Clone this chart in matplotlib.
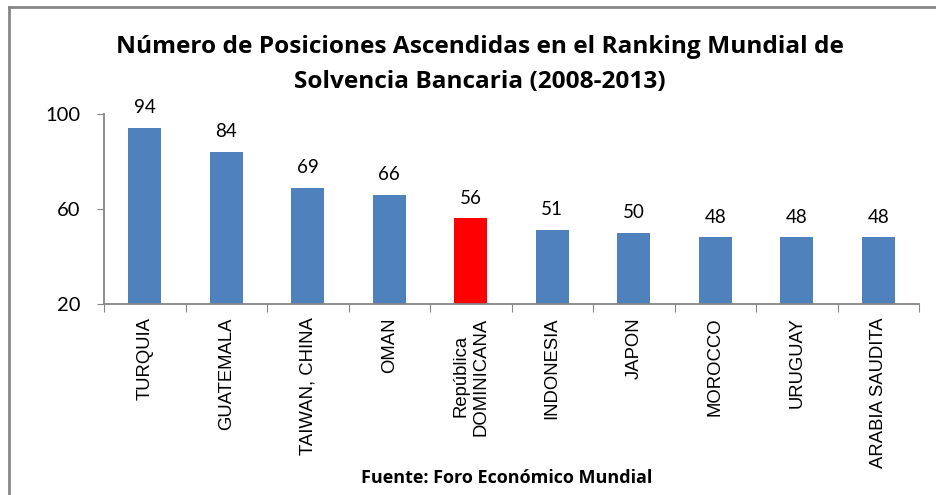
import matplotlib.pyplot as plt
from matplotlib.lines import Line2D

paises = ['TURQUIA', 'GUATEMALA', 'TAIWAN, CHINA', 'OMAN', 'República\nDOMINICANA',
          'INDONESIA', 'JAPON', 'MOROCCO', 'URUGUAY', 'ARABIA SAUDITA']
posiciones = [94, 84, 69, 66, 56, 51, 50, 48, 48, 48]
destacado = 'República\nDOMINICANA'

AZUL = '#4F81BD'
ROJO = '#FF0000'
GRIS = '#868686'
TXT = ['Lato', 'DejaVu Sans']
TIT = ['Open Sans', 'DejaVu Sans']


def plot_ranking():
    fig = plt.figure(figsize=(9.36, 4.95), dpi=100)
    ax = fig.add_axes([104 / 936, 1 - 304 / 495, 815 / 936, 190 / 495])

    colores = [ROJO if p == destacado else AZUL for p in paises]
    x = list(range(len(paises)))
    ax.bar(x, posiciones, width=0.41, color=colores, zorder=2)
    for xi, v in zip(x, posiciones):
        ax.text(xi, v + 5, str(v), ha='center', va='bottom', fontsize=13.5, family=TXT)

    ax.set_xlim(-0.5, len(paises) - 0.5)
    ax.set_ylim(20, 100)
    ax.set_yticks([20, 60, 100])
    ax.set_yticklabels(['20', '60', '100'], fontsize=14.5, family=TXT)
    ax.tick_params(axis='y', length=5, color=GRIS, pad=12)

    # ticks between categories, labels in the middle
    ax.set_xticks([i - 0.5 for i in range(len(paises) + 1)])
    ax.set_xticklabels([])
    ax.tick_params(axis='x', length=6, color=GRIS)
    for xi, p in zip(x, paises):
        ax.text(xi, -0.07, p, rotation=90, ha='center', va='top', multialignment='center',
                fontsize=13.3, family='Liberation Sans',
                transform=ax.get_xaxis_transform())

    for s in ['top', 'right']:
        ax.spines[s].set_visible(False)
    for s in ['left', 'bottom']:
        ax.spines[s].set_color(GRIS)
        ax.spines[s].set_linewidth(1.3)

    fig.text(480 / 936, 1 - 47 / 495,
             'Número de Posiciones Ascendidas en el Ranking Mundial de',
             ha='center', va='center', fontsize=17.6, fontweight='bold', family=TIT)
    fig.text(480 / 936, 1 - 82 / 495, 'Solvencia Bancaria (2008-2013)',
             ha='center', va='center', fontsize=17.6, fontweight='bold', family=TIT)
    fig.text(507 / 936, 1 - 478 / 495, 'Fuente: Foro Económico Mundial',
             ha='center', va='center', fontsize=13, fontweight='bold', family=TIT)

    # chart frame (only top and left edges visible in the crop)
    fig.add_artist(Line2D([8.5 / 936, 1], [1 - 6.5 / 495] * 2, color=GRIS, lw=2))
    fig.add_artist(Line2D([8.5 / 936] * 2, [0, 1 - 6.5 / 495], color=GRIS, lw=2))

    fig.savefig('out.png', dpi=100)


if __name__ == '__main__':
    plot_ranking()
